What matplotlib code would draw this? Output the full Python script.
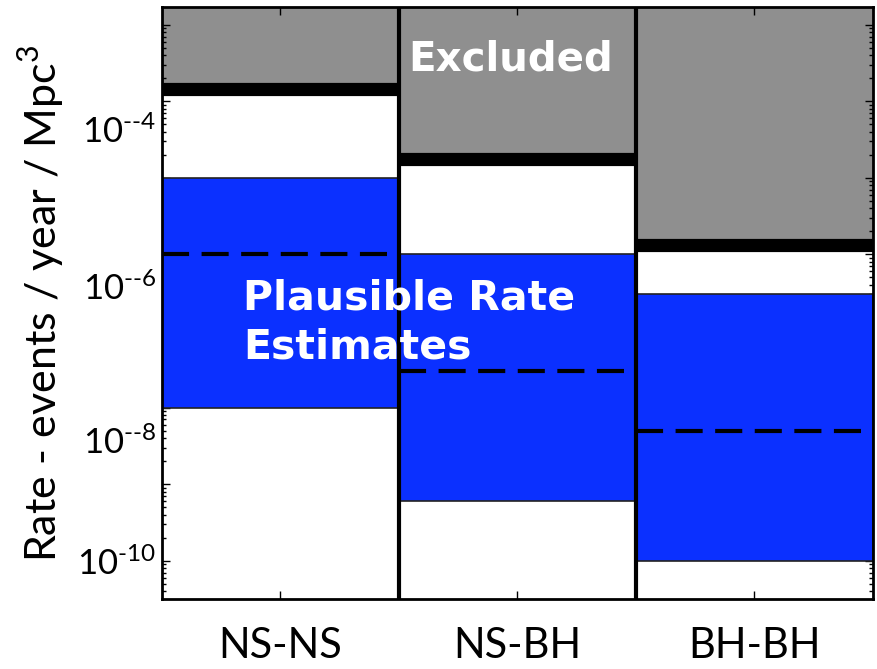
import numpy as np
import matplotlib
matplotlib.use("Agg")
import matplotlib.pyplot as plt
from matplotlib.transforms import ScaledTranslation

# Merger classes
categories = ["NS-NS", "NS-BH", "BH-BH"]
# Observational upper limits (events / year / Mpc^3)
upper_limits = [1.43e-4, 1.75e-5, 1.33e-6]
# Plausible rate ranges (low, high) and realistic estimates
rate_low = [1e-8, 6e-10, 1e-10]
rate_high = [1e-5, 1e-6, 3e-7]
rate_realistic = [1e-6, 3e-8, 5e-9]
# Labelled decades on the rate axis
label_exponents = [-4, -6, -8, -10]

plt.rcParams["font.family"] = ["Lato", "DejaVu Sans"]
plt.rcParams["mathtext.fontset"] = "custom"
plt.rcParams["mathtext.rm"] = "Lato"

fig = plt.figure(figsize=(8.77, 6.69), dpi=100)
ax = fig.add_axes([0.1847, 0.1046, 0.9954 - 0.1847, 0.9895 - 0.1046])
ax.set_yscale("log")
y_bottom, y_top = 10 ** -10.5, 10 ** -2.77
ax.set_ylim(y_bottom, y_top)
ax.set_xlim(0.5, 3.5)

x = np.arange(1, len(categories) + 1)
blue = "#0b30ff"
gray = "#8f8f8f"

# Excluded regions above the upper limits
ax.bar(x, [y_top * 2 - u for u in upper_limits], bottom=upper_limits, width=1.0,
       color=gray, edgecolor="#555555", linewidth=1.0, zorder=1)
# Plausible rate ranges
ax.bar(x, np.array(rate_high) - np.array(rate_low), bottom=rate_low, width=1.0,
       color=blue, edgecolor="#222222", linewidth=1.2, zorder=2)
# Thick black upper-limit bars
for xi, u in zip(x, upper_limits):
    ax.hlines(u, xi - 0.5, xi + 0.5, colors="black", linewidth=9.5, zorder=3)
# Realistic estimates
for xi, r in zip(x, rate_realistic):
    ax.hlines(r, xi - 0.5, xi + 0.5, colors="black", linewidth=3.0,
              linestyles=(0, (6.5, 3.0)), zorder=3)
# Column dividers
for xd in x[:-1] + 0.5:
    ax.axvline(xd, color="black", linewidth=3.0, zorder=4)

# Ticks
ax.set_xticks(x)
ax.set_xticklabels(categories, fontsize=30)
ax.tick_params(axis="x", which="both", direction="in", top=True, length=6,
               width=1.0, pad=20)
major = [10.0 ** e for e in range(-10, -2)]
ax.yaxis.set_major_locator(matplotlib.ticker.FixedLocator(major))
ax.yaxis.set_minor_locator(matplotlib.ticker.LogLocator(base=10, subs=np.arange(2, 10)))
ax.yaxis.set_minor_formatter(matplotlib.ticker.NullFormatter())
labels = []
for e in range(-10, -2):
    if e == -10:
        labels.append(r"$\mathregular{10^{\text{-10}}}$")
    elif e in label_exponents:
        labels.append(r"$\mathregular{10^{\text{-%d}}}$" % e)
    else:
        labels.append("")
ax.set_yticklabels(labels, fontsize=25)
ax.tick_params(axis="y", which="major", direction="in", right=True, length=6, width=1.0, pad=4)
ax.tick_params(axis="y", which="minor", direction="in", right=True, length=3, width=1.0)

label_shift = {-4: 28, -6: 32, -8: 32, -10: 0}
for tick, e in zip(ax.yaxis.get_major_ticks(), range(-10, -2)):
    shift = label_shift.get(e, 0)
    tick.label1.set_transform(tick.label1.get_transform() +
                              ScaledTranslation(0, -shift / 100.0, fig.dpi_scale_trans))

for sp in ax.spines.values():
    sp.set_linewidth(2.0)
    sp.set_zorder(5)

ax.set_ylabel(r"Rate - events / year / Mpc$^\mathregular{3}$", fontsize=31, labelpad=8)

ax.text(1.97, 10 ** -3.46, "Excluded", color="white", fontsize=29, fontweight="bold",
        family="DejaVu Sans", ha="center", va="center", zorder=6)
ax.text(0.842, 10 ** -6.9, "Plausible Rate\nEstimates", color="white", fontsize=29.5,
        fontweight="bold", family="DejaVu Sans", ha="left", va="center",
        linespacing=1.3, zorder=6)

fig.savefig("out.png", dpi=100)
